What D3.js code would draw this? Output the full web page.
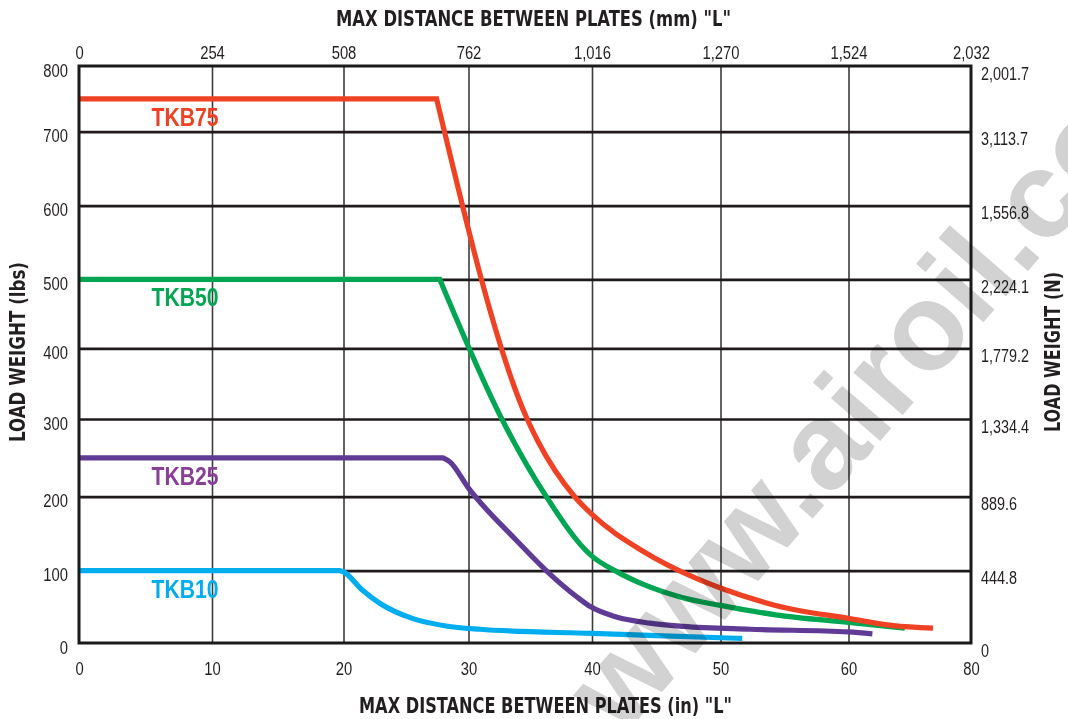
<!DOCTYPE html>
<html>
<head>
<meta charset="utf-8">
<script src="https://cdn.jsdelivr.net/npm/d3@7"></script>
<style>
  html, body { margin: 0; padding: 0; background: #fff; }
  svg { display: block; }
  .tick text { font-family: "Liberation Sans", Arial, sans-serif; font-size: 19px; fill: #231f20; }
  .title { font-family: "DejaVu Sans Condensed", "Liberation Sans Narrow", sans-serif; font-weight: bold; font-size: 22px; fill: #231f20; }
  .slabel { font-family: "Liberation Sans", Arial, sans-serif; font-weight: bold; font-size: 25.5px; }
</style>
</head>
<body>
<svg id="chart" width="1068" height="719"></svg>
<script>
// ---- data ----
const xTicksIn = [0, 10, 20, 30, 40, 50, 60, 80];
const xTicksMm = ["0", "254", "508", "762", "1,016", "1,270", "1,524", "2,032"];
const yTicksLbs = [0, 100, 200, 300, 400, 500, 600, 700, 800];
const yTicksN = ["0", "444.8", "889.6", "1,334.4", "1,779.2", "2,224.1", "1,556.8", "3,113.7", "2,001.7"];

const seriesNames = ["TKB75", "TKB50", "TKB25", "TKB10"];
const tkb75 = [[0,750],[27.45,750],[34.75,300],[35.6,272],[38.6,200],[40,176],[44,126],[47.9,91],[50,76],[54.3,52],[60,34],[67.3,24],[73.8,20.5]];
const tkb50 = [[0,500],[27.7,500],[32.7,300],[36.3,200],[39.9,121],[42.1,97],[44,81],[47,63],[50,52],[54.3,39],[60,28.5],[69.2,20.5]];
const tkb25 = [[0,250],[27.96,250],[28.5,245],[30.0,211],[33.85,141.5],[36.55,96],[38.76,64],[39.9,50],[41.9,36],[44.5,27.5],[47.1,23],[52.3,19],[60,15.4],[63.9,12.7]];
const tkb10 = [[0,100],[19.72,100],[19.98,98.6],[21.5,73.3],[22.9,55],[25.5,34],[28.2,23.5],[30.9,19],[40,13.2],[45,10.3],[51.7,6.3]];
const seriesData = [tkb75, tkb50, tkb25, tkb10];
const watermark = "www.airoil.co";

// ---- styles ----
const lineColors = ["#ef4123", "#00a651", "#5f3b96", "#00aeef"];
const labelColors = ["#ef4123", "#00a651", "#8a3f98", "#00aeef"];

const svg = d3.select("#chart");
const pLeft = 79, pRight = 971, pTop = 66, pBottom = 643;

const x = d3.scaleLinear().domain(xTicksIn).range([79, 212, 343.5, 468.5, 592, 720.5, 848.5, 971]);
const y = d3.scaleLinear().domain(yTicksLbs).range([643, 570.7, 496.7, 419, 348.3, 279.3, 205.7, 131.7, 66]);

function condense(sel, s) {
  sel.each(function () {
    const t = d3.select(this);
    const x0 = +t.attr("x") || 0, y0 = +t.attr("y") || 0;
    t.attr("x", 0).attr("y", 0).attr("transform", `translate(${x0},${y0}) scale(${s},1)`);
  });
}

// gridlines
const gGridV = svg.append("g").attr("transform", `translate(0,${pBottom})`)
  .call(d3.axisBottom(x).tickValues(xTicksIn.slice(1, -1)).tickSize(-(pBottom - pTop)).tickFormat(""));
gGridV.select(".domain").remove();
gGridV.selectAll("line").attr("stroke", "#3c3c3c").attr("stroke-width", 1.6);

const gGridH = svg.append("g").attr("transform", `translate(${pLeft},0)`)
  .call(d3.axisLeft(y).tickValues(yTicksLbs.slice(1, -1)).tickSize(-(pRight - pLeft)).tickFormat(""));
gGridH.select(".domain").remove();
gGridH.selectAll("line").attr("stroke", "#1f1b1c").attr("stroke-width", 2.7);

// series lines: straight plateau, then smooth decay (sharp corner kept)
const lineLin = d3.line().x(d => x(d[0])).y(d => y(d[1]));
const lineMono = d3.line().x(d => x(d[0])).y(d => y(d[1])).curve(d3.curveMonotoneX);
const order = [3, 2, 1, 0];
order.forEach(i => {
  const dta = seriesData[i];
  const dPath = lineLin(dta.slice(0, 2)) + lineMono(dta.slice(1)).replace(/^M/, "L");
  svg.append("path").attr("d", dPath).attr("fill", "none")
    .attr("stroke", lineColors[i]).attr("stroke-width", 5.2)
    .attr("stroke-linejoin", "miter");
});

// series labels
seriesNames.forEach((name, i) => {
  svg.append("text").attr("class", "slabel")
    .attr("x", x(5.45)).attr("y", y(seriesData[i][0][1]) + 27)
    .attr("fill", labelColors[i])
    .attr("textLength", 67).attr("lengthAdjust", "spacingAndGlyphs")
    .text(name);
});

// frame
svg.append("rect").attr("x", pLeft).attr("y", pTop).attr("width", pRight - pLeft).attr("height", pBottom - pTop)
  .attr("fill", "none").attr("stroke", "#1a1a1a").attr("stroke-width", 3);

// axes labels
const axB = svg.append("g").attr("transform", `translate(0,${pBottom})`)
  .call(d3.axisBottom(x).tickValues(xTicksIn).tickSize(0).tickPadding(18).tickFormat(d3.format("d")));
axB.select(".domain").remove();
condense(axB.selectAll("text"), 0.78);

const axT = svg.append("g").attr("transform", `translate(0,${pTop})`)
  .call(d3.axisTop(x).tickValues(xTicksIn).tickSize(0).tickPadding(7).tickFormat((d, i) => xTicksMm[i]));
axT.select(".domain").remove();
condense(axT.selectAll("text"), 0.78);

const axL = svg.append("g").attr("transform", `translate(${pLeft},0)`)
  .call(d3.axisLeft(y).tickValues(yTicksLbs).tickSize(0).tickPadding(11).tickFormat(d3.format("d")));
axL.select(".domain").remove();
axL.selectAll("text").attr("y", 4);
condense(axL.selectAll("text"), 0.78);

const axR = svg.append("g").attr("transform", `translate(${pRight},0)`)
  .call(d3.axisRight(y).tickValues(yTicksLbs).tickSize(0).tickPadding(10).tickFormat((d, i) => yTicksN[i]));
axR.select(".domain").remove();
axR.selectAll("text").attr("y", 7);
condense(axR.selectAll("text"), 0.76);

// titles
svg.append("text").attr("class", "title").attr("x", 533.5).attr("y", 26)
  .attr("text-anchor", "middle").attr("textLength", 395).attr("lengthAdjust", "spacingAndGlyphs")
  .text('MAX DISTANCE BETWEEN PLATES (mm) "L"');
svg.append("text").attr("class", "title").attr("x", 545.5).attr("y", 713)
  .attr("text-anchor", "middle").attr("textLength", 373).attr("lengthAdjust", "spacingAndGlyphs")
  .text('MAX DISTANCE BETWEEN PLATES (in) "L"');
svg.append("text").attr("class", "title").attr("transform", "translate(25,352) rotate(-90)")
  .attr("text-anchor", "middle").attr("textLength", 180).attr("lengthAdjust", "spacingAndGlyphs")
  .text("LOAD WEIGHT (lbs)");
svg.append("text").attr("class", "title").attr("transform", "translate(1060,352) rotate(-90)")
  .attr("text-anchor", "middle").attr("textLength", 160).attr("lengthAdjust", "spacingAndGlyphs")
  .text("LOAD WEIGHT (N)");

// watermark
svg.append("text").attr("transform", "translate(622,738) rotate(-49)")
  .attr("font-family", "Liberation Sans, Arial, sans-serif").attr("font-weight", "bold")
  .attr("font-size", 123).attr("fill", "#d2d2d2").style("mix-blend-mode", "multiply")
  .text(watermark);
</script>
</body>
</html>
